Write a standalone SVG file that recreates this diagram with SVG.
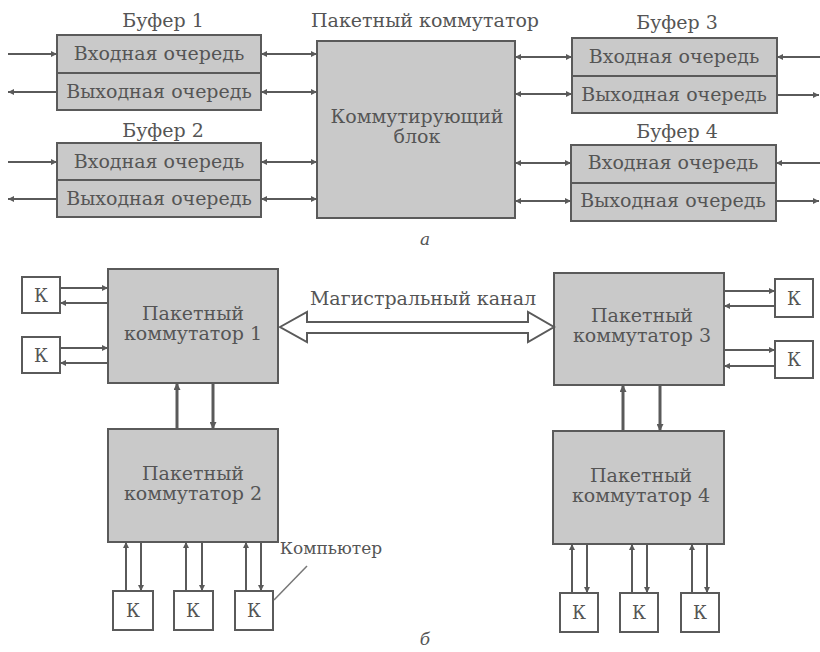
<svg xmlns="http://www.w3.org/2000/svg" width="820" height="652" viewBox="0 0 820 652">
<style>
.box{fill:#c9c9c9;stroke:#5a5a5a;stroke-width:2}
.k{fill:#fff;stroke:#5a5a5a;stroke-width:2}
text{font-family:"DejaVu Serif","Liberation Serif",serif;fill:#555;text-anchor:middle}
.t{font-size:19px}
.lbl{font-size:19px}
.kk{font-size:18px}
.it{font-style:italic;font-size:17px}
.ln{stroke:#5a5a5a;stroke-width:2;fill:none}
.th{stroke:#5a5a5a;stroke-width:3;fill:none}
</style>
<defs>
<marker id="ah" viewBox="0 0 10 10" refX="10" refY="5" markerWidth="9" markerHeight="6" markerUnits="userSpaceOnUse" orient="auto-start-reverse"><path d="M0,0 L10,5 L0,10 z" fill="#5a5a5a"/></marker>
<marker id="ahb" viewBox="0 0 10 10" refX="10" refY="5" markerWidth="10" markerHeight="7" markerUnits="userSpaceOnUse" orient="auto-start-reverse"><path d="M0,0 L10,5 L0,10 z" fill="#5a5a5a"/></marker>
</defs>
<rect width="820" height="652" fill="#fff"/>

<!-- Part a -->
<g id="buf1">
<text class="lbl" x="163" y="27">Буфер 1</text>
<rect class="box" x="57" y="35" width="204" height="75"/>
<line class="ln" x1="57" y1="73" x2="261" y2="73"/>
<text class="t" x="159" y="60">Входная очередь</text>
<text class="t" x="159" y="98">Выходная очередь</text>
</g>
<g id="buf2">
<text class="lbl" x="163" y="137">Буфер 2</text>
<rect class="box" x="57" y="143" width="204" height="74"/>
<line class="ln" x1="57" y1="180" x2="261" y2="180"/>
<text class="t" x="159" y="168">Входная очередь</text>
<text class="t" x="159" y="205">Выходная очередь</text>
</g>
<g id="sw">
<text class="lbl" x="425" y="27">Пакетный коммутатор</text>
<rect class="box" x="317" y="41" width="198" height="177"/>
<text class="t" x="417" y="123">Коммутирующий</text>
<text class="t" x="417" y="143">блок</text>
</g>
<g id="buf3">
<text class="lbl" x="677" y="29">Буфер 3</text>
<rect class="box" x="572" y="38" width="205" height="75"/>
<line class="ln" x1="572" y1="76" x2="777" y2="76"/>
<text class="t" x="674" y="63">Входная очередь</text>
<text class="t" x="674" y="101">Выходная очередь</text>
</g>
<g id="buf4">
<text class="lbl" x="677" y="138">Буфер 4</text>
<rect class="box" x="571" y="145" width="205" height="76"/>
<line class="ln" x1="571" y1="183" x2="776" y2="183"/>
<text class="t" x="673" y="169">Входная очередь</text>
<text class="t" x="673" y="207">Выходная очередь</text>
</g>
<text class="it" x="425" y="245">а</text>

<!-- Part b -->
<g id="ps1">
<rect class="box" x="108" y="269" width="170" height="114"/>
<text class="t" x="193" y="320">Пакетный</text>
<text class="t" x="193" y="340">коммутатор 1</text>
</g>
<g id="ps2">
<rect class="box" x="108" y="429" width="170" height="113"/>
<text class="t" x="193" y="480">Пакетный</text>
<text class="t" x="193" y="500">коммутатор 2</text>
</g>
<g id="ps3">
<rect class="box" x="554" y="273" width="170" height="112"/>
<text class="t" x="642" y="322">Пакетный</text>
<text class="t" x="642" y="342">коммутатор 3</text>
</g>
<g id="ps4">
<rect class="box" x="553" y="431" width="171" height="113"/>
<text class="t" x="641" y="482">Пакетный</text>
<text class="t" x="641" y="502">коммутатор 4</text>
</g>

<g id="k1"><rect class="k" x="22" y="277" width="38" height="36"/><text class="kk" x="41" y="302">К</text></g>
<g id="k2"><rect class="k" x="22" y="337" width="38" height="36"/><text class="kk" x="41" y="362">К</text></g>
<g id="k3"><rect class="k" x="775" y="279" width="38" height="38"/><text class="kk" x="794" y="305">К</text></g>
<g id="k4"><rect class="k" x="775" y="341" width="38" height="37"/><text class="kk" x="794" y="366">К</text></g>
<g id="k5"><rect class="k" x="113" y="591" width="40" height="39"/><text class="kk" x="133" y="617">К</text></g>
<g id="k6"><rect class="k" x="174" y="591" width="39" height="39"/><text class="kk" x="193" y="617">К</text></g>
<g id="k7"><rect class="k" x="235" y="591" width="38" height="39"/><text class="kk" x="254" y="617">К</text></g>
<g id="k8"><rect class="k" x="560" y="593" width="38" height="39"/><text class="kk" x="579" y="619">К</text></g>
<g id="k9"><rect class="k" x="620" y="593" width="38" height="39"/><text class="kk" x="639" y="619">К</text></g>
<g id="k10"><rect class="k" x="681" y="593" width="38" height="39"/><text class="kk" x="700" y="619">К</text></g>

<g id="labels">
<text class="lbl" x="423" y="305">Магистральный канал</text>
<text x="331" y="554" font-size="17">Компьютер</text>
<text class="it" x="425" y="645">б</text>
</g>

<g id="connectors">
<line class="ln" x1="8" y1="54" x2="57" y2="54" marker-end="url(#ah)"/>
<line class="ln" x1="57" y1="92" x2="8" y2="92" marker-end="url(#ah)"/>
<line class="ln" x1="8" y1="162" x2="57" y2="162" marker-end="url(#ah)"/>
<line class="ln" x1="57" y1="199" x2="8" y2="199" marker-end="url(#ah)"/>
<line class="ln" x1="820" y1="57" x2="777" y2="57" marker-end="url(#ah)"/>
<line class="ln" x1="777" y1="95" x2="819" y2="95" marker-end="url(#ah)"/>
<line class="ln" x1="820" y1="163" x2="776" y2="163" marker-end="url(#ah)"/>
<line class="ln" x1="776" y1="201" x2="819" y2="201" marker-end="url(#ah)"/>
<line class="ln" x1="261" y1="54" x2="317" y2="54" marker-start="url(#ah)" marker-end="url(#ah)"/>
<line class="ln" x1="261" y1="92" x2="317" y2="92" marker-start="url(#ah)" marker-end="url(#ah)"/>
<line class="ln" x1="261" y1="162" x2="317" y2="162" marker-start="url(#ah)" marker-end="url(#ah)"/>
<line class="ln" x1="261" y1="199" x2="317" y2="199" marker-start="url(#ah)" marker-end="url(#ah)"/>
<line class="ln" x1="515" y1="57" x2="572" y2="57" marker-start="url(#ah)" marker-end="url(#ah)"/>
<line class="ln" x1="515" y1="94" x2="572" y2="94" marker-start="url(#ah)" marker-end="url(#ah)"/>
<line class="ln" x1="515" y1="163" x2="571" y2="163" marker-start="url(#ah)" marker-end="url(#ah)"/>
<line class="ln" x1="515" y1="201" x2="571" y2="201" marker-start="url(#ah)" marker-end="url(#ah)"/>

<line class="ln" x1="60" y1="288" x2="108" y2="288" marker-end="url(#ah)"/>
<line class="ln" x1="108" y1="303" x2="60" y2="303" marker-end="url(#ah)"/>
<line class="ln" x1="60" y1="348" x2="108" y2="348" marker-end="url(#ah)"/>
<line class="ln" x1="108" y1="363" x2="60" y2="363" marker-end="url(#ah)"/>
<line class="ln" x1="724" y1="291" x2="775" y2="291" marker-end="url(#ah)"/>
<line class="ln" x1="775" y1="306" x2="724" y2="306" marker-end="url(#ah)"/>
<line class="ln" x1="724" y1="350" x2="775" y2="350" marker-end="url(#ah)"/>
<line class="ln" x1="775" y1="366" x2="724" y2="366" marker-end="url(#ah)"/>
<line class="th" x1="177" y1="429" x2="177" y2="383" marker-end="url(#ahb)"/>
<line class="th" x1="213" y1="383" x2="213" y2="429" marker-end="url(#ahb)"/>
<line class="th" x1="623" y1="431" x2="623" y2="385" marker-end="url(#ahb)"/>
<line class="th" x1="660" y1="385" x2="660" y2="431" marker-end="url(#ahb)"/>
<line class="ln" x1="126" y1="591" x2="126" y2="542" marker-end="url(#ah)"/>
<line class="ln" x1="141" y1="542" x2="141" y2="591" marker-end="url(#ah)"/>
<line class="ln" x1="186" y1="591" x2="186" y2="542" marker-end="url(#ah)"/>
<line class="ln" x1="202" y1="542" x2="202" y2="591" marker-end="url(#ah)"/>
<line class="ln" x1="246" y1="591" x2="246" y2="542" marker-end="url(#ah)"/>
<line class="ln" x1="261" y1="542" x2="261" y2="591" marker-end="url(#ah)"/>
<line class="ln" x1="572" y1="593" x2="572" y2="544" marker-end="url(#ah)"/>
<line class="ln" x1="587" y1="544" x2="587" y2="593" marker-end="url(#ah)"/>
<line class="ln" x1="632" y1="593" x2="632" y2="544" marker-end="url(#ah)"/>
<line class="ln" x1="647" y1="544" x2="647" y2="593" marker-end="url(#ah)"/>
<line class="ln" x1="692" y1="593" x2="692" y2="544" marker-end="url(#ah)"/>
<line class="ln" x1="707" y1="544" x2="707" y2="593" marker-end="url(#ah)"/>
<path d="M280,327 L307,312 L307,322 L528,322 L528,312 L554,327 L528,342 L528,333 L307,333 L307,342 Z" fill="#fff" stroke="#5a5a5a" stroke-width="2" stroke-linejoin="miter"/>
<line x1="274" y1="600" x2="307" y2="566" stroke="#777" stroke-width="1.5"/>
</g>
</svg>
